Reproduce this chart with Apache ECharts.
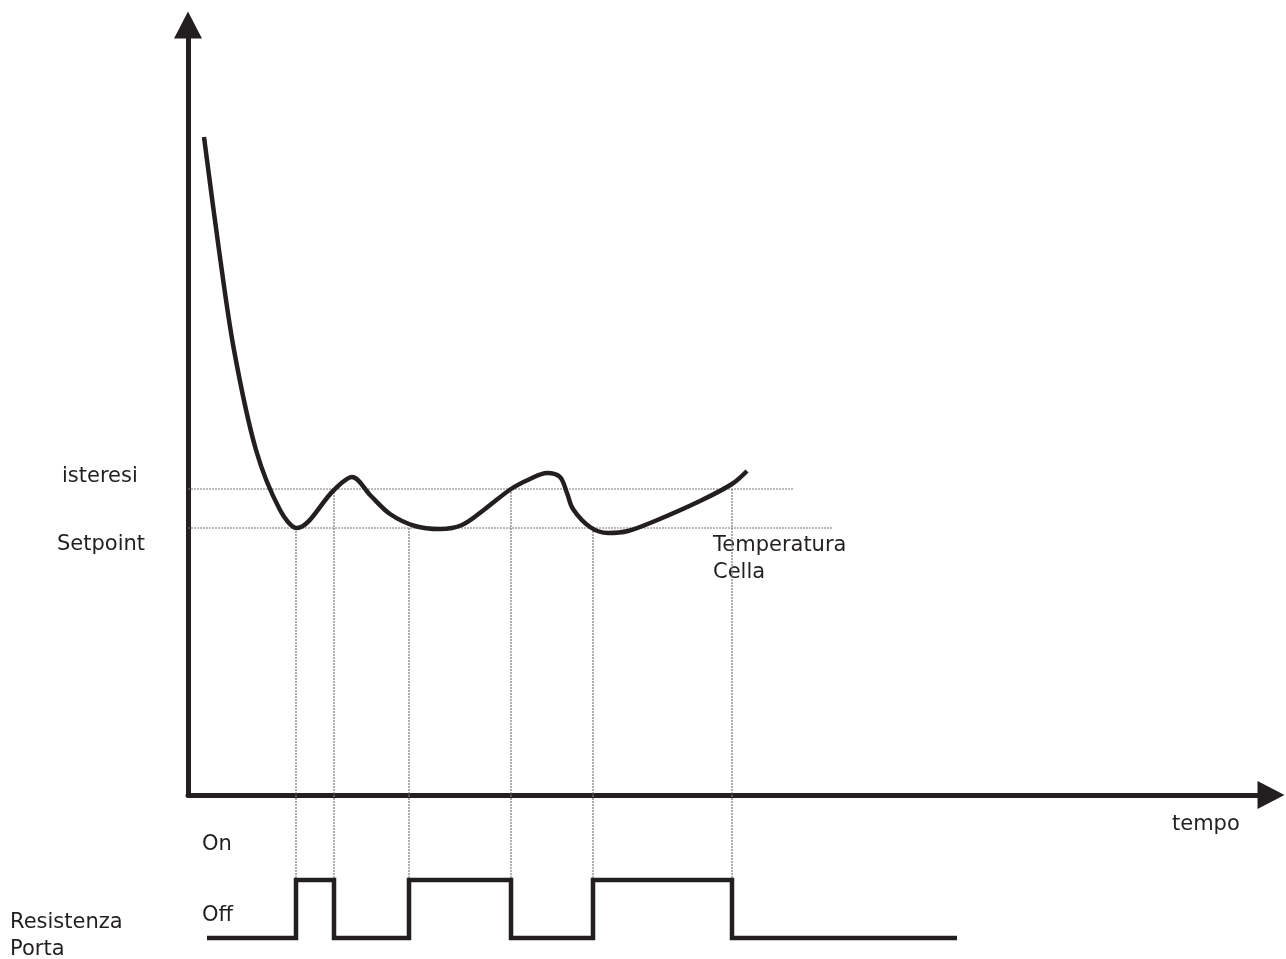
<!DOCTYPE html>
<html>
<head>
<meta charset="utf-8">
<script src="https://cdn.jsdelivr.net/npm/echarts@6/dist/echarts.min.js"></script>
<style>
  html, body { margin: 0; padding: 0; background: #ffffff; }
  #chart { width: 1286px; height: 959px; }
</style>
</head>
<body>
<div id="chart"></div>
<script>
// ---- Data (time and temperature in arbitrary units) ----
const curveTime = [16, 31, 46, 68, 92, 109, 146, 164, 183, 202, 227, 252, 274, 297, 323, 342, 359, 372, 379, 385, 402, 420, 440, 467, 512, 544, 559];
const curveTemp = [658, 545, 445, 345, 285, 267, 305, 318, 299, 281, 269, 266, 270, 286, 306, 316, 322, 318, 302, 286, 268, 262, 264, 274, 294, 311, 324];

const setpointTemp = 267;
const isteresiTemp = 306;
const setpointLineEnd = 644;
const isteresiLineEnd = 605;

// switching instants of the door heater and the threshold reached at each
const switchTimes = [108, 146, 221, 323, 405, 544];
const switchThresholds = ['setpoint', 'isteresi', 'setpoint', 'isteresi', 'setpoint', 'isteresi'];

// heater output (0 = Off, 1 = On)
const heaterTimes  = [19, 108, 146, 221, 323, 405, 544, 769];
const heaterStates = [0, 1, 0, 1, 0, 1, 0, 0];

const labels = {
  isteresi: 'isteresi', setpoint: 'Setpoint', curve1: 'Temperatura', curve2: 'Cella',
  xName: 'tempo', on: 'On', off: 'Off', out1: 'Resistenza', out2: 'Porta'
};

// ---- Layout ----
const GRID_LEFT = 188, GRID_RIGHT = 15, GRID_TOP = 25, GRID_BOTTOM = 164;
const W = 1286, H = 959;
const X_MAX = W - GRID_LEFT - GRID_RIGHT;        // 1083
const Y_MAX = H - GRID_TOP - GRID_BOTTOM;        // 770
const WAVE_TOP = 880, WAVE_BOTTOM_PX = 938;
const AXIS_Y_PX = H - GRID_BOTTOM;
const onLevelInTemp = -(WAVE_TOP - AXIS_Y_PX);   // where the On level sits in temperature units

const INK = '#231f20';
const DOT = '#7a7a7a';
const FONT = 'DejaVu Sans';
const FS = 21;

const thrValue = { setpoint: setpointTemp, isteresi: isteresiTemp };

const series = [];

// threshold lines
series.push({
  type: 'line', xAxisIndex: 0, yAxisIndex: 0, silent: true, symbol: 'none', clip: false,
  data: [[0, isteresiTemp], [isteresiLineEnd, isteresiTemp]],
  lineStyle: { color: DOT, width: 1.2, type: [2, 1] }, z: 1
});
series.push({
  type: 'line', xAxisIndex: 0, yAxisIndex: 0, silent: true, symbol: 'none', clip: false,
  data: [[0, setpointTemp], [setpointLineEnd, setpointTemp]],
  lineStyle: { color: DOT, width: 1.2, type: [2, 1] }, z: 1
});

// vertical switching lines
switchTimes.forEach((t, i) => {
  series.push({
    type: 'line', xAxisIndex: 0, yAxisIndex: 0, silent: true, symbol: 'none', clip: false,
    data: [[t, thrValue[switchThresholds[i]]], [t, onLevelInTemp]],
    lineStyle: { color: DOT, width: 1.2, type: [2, 1] }, z: 1
  });
});

// temperature curve
series.push({
  type: 'line', xAxisIndex: 0, yAxisIndex: 0, silent: true, symbol: 'none', clip: false,
  smooth: 0.33,
  data: curveTime.map((t, i) => [t, curveTemp[i]]),
  lineStyle: { color: INK, width: 4.5, cap: 'butt', join: 'round' }, z: 3
});

// heater square wave
series.push({
  type: 'line', xAxisIndex: 1, yAxisIndex: 1, silent: true, symbol: 'none', clip: false,
  step: 'end',
  data: heaterTimes.map((t, i) => [t, heaterStates[i]]),
  lineStyle: { color: INK, width: 4.5, cap: 'butt', join: 'miter' }, z: 3
});

function txt(text, x, baseline) {
  return {
    type: 'text', left: x, top: baseline - FS + 3, silent: true,
    style: { text: text, fill: INK, font: FS + 'px "' + FONT + '"' }
  };
}

const option = {
  animation: false,
  backgroundColor: '#ffffff',
  grid: [
    { left: GRID_LEFT, right: GRID_RIGHT, top: GRID_TOP, bottom: GRID_BOTTOM },
    { left: GRID_LEFT, right: GRID_RIGHT, top: WAVE_TOP, height: WAVE_BOTTOM_PX - WAVE_TOP }
  ],
  xAxis: [
    {
      type: 'value', gridIndex: 0, min: 0, max: X_MAX,
      axisLine: { show: true, onZero: true, symbol: ['none', 'triangle'], symbolSize: [28, 27],
                  lineStyle: { color: INK, width: 5 } },
      axisTick: { show: false }, axisLabel: { show: false }, splitLine: { show: false }
    },
    {
      type: 'value', gridIndex: 1, min: 0, max: X_MAX, show: false
    }
  ],
  yAxis: [
    {
      type: 'value', gridIndex: 0, min: 0, max: Y_MAX,
      axisLine: { show: true, onZero: true, symbol: ['none', 'triangle'], symbolSize: [28, 27],
                  lineStyle: { color: INK, width: 5 } },
      axisTick: { show: false }, axisLabel: { show: false }, splitLine: { show: false }
    },
    {
      type: 'value', gridIndex: 1, min: 0, max: 1, show: false
    }
  ],
  graphic: [
    txt(labels.isteresi, 62, 484),
    txt(labels.setpoint, 57, 552),
    txt(labels.curve1, 713, 553),
    txt(labels.curve2, 713, 580),
    txt(labels.xName, 1172, 832),
    txt(labels.on, 202, 852),
    txt(labels.off, 202, 923),
    txt(labels.out1, 10, 930),
    txt(labels.out2, 10, 957)
  ],
  series: series
};

const chart = echarts.init(document.getElementById('chart'), null, { renderer: 'canvas' });
chart.setOption(option);
</script>
</body>
</html>
